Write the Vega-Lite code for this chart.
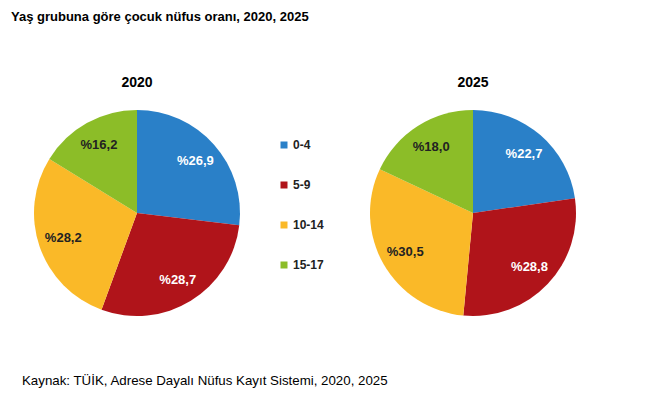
{
  "$schema": "https://vega.github.io/schema/vega-lite/v6.json",
  "padding": {"left": 11, "top": 11, "right": 5, "bottom": 5},
  "background": "white",
  "title": {
    "text": "Yaş grubuna göre çocuk nüfus oranı, 2020, 2025",
    "anchor": "start",
    "frame": "group",
    "dx": -11,
    "font": "Liberation Sans",
    "fontSize": 13,
    "fontWeight": "bold",
    "color": "#000000",
    "offset": 52
  },
  "data": {
    "values": [
      {"year": "2020", "age": "0-4", "idx": 1, "value": 26.9, "label": "%26,9"},
      {"year": "2020", "age": "5-9", "idx": 2, "value": 28.7, "label": "%28,7"},
      {"year": "2020", "age": "10-14", "idx": 3, "value": 28.2, "label": "%28,2"},
      {"year": "2020", "age": "15-17", "idx": 4, "value": 16.2, "label": "%16,2"},
      {"year": "2025", "age": "0-4", "idx": 1, "value": 22.7, "label": "%22,7"},
      {"year": "2025", "age": "5-9", "idx": 2, "value": 28.8, "label": "%28,8"},
      {"year": "2025", "age": "10-14", "idx": 3, "value": 30.5, "label": "%30,5"},
      {"year": "2025", "age": "15-17", "idx": 4, "value": 18.0, "label": "%18,0"}
    ]
  },
  "facet": {
    "column": {
      "field": "year",
      "type": "nominal",
      "header": {
        "title": "Kaynak: TÜİK, Adrese Dayalı Nüfus Kayıt Sistemi, 2020, 2025",
        "titleOrient": "bottom",
        "titleAnchor": "start",
        "titleFont": "Liberation Sans",
        "titleFontSize": 13.3,
        "titleFontWeight": "normal",
        "titleColor": "#000000",
        "titlePadding": 48,
        "labelOrient": "top",
        "labelFont": "Liberation Sans",
        "labelFontSize": 14,
        "labelFontWeight": "bold",
        "labelColor": "#000000",
        "labelPadding": 20
      }
    }
  },
  "spacing": 106,
  "spec": {
    "width": 230,
    "height": 206,
    "layer": [
      {
        "mark": {"type": "arc", "outerRadius": 103},
        "encoding": {
          "theta": {"field": "value", "type": "quantitative", "stack": true},
          "order": {"field": "idx", "type": "quantitative"},
          "color": {
            "field": "age",
            "type": "nominal",
            "scale": {
              "domain": ["0-4", "5-9", "10-14", "15-17"],
              "range": ["#2a80c8", "#b0141a", "#fab928", "#8cbd28"]
            },
            "legend": {
              "orient": "none",
              "legendX": 256,
              "legendY": 29,
              "title": null,
              "padding": 0,
              "symbolType": "square",
              "symbolSize": 49,
              "symbolStrokeWidth": 0,
              "labelFont": "Liberation Sans",
              "labelFontSize": 12,
              "labelFontWeight": "bold",
              "labelColor": "#222222",
              "labelOffset": 3,
              "rowPadding": 28
            }
          }
        }
      },
      {
        "mark": {"type": "text", "radius": 78, "font": "Liberation Sans", "fontSize": 13, "fontWeight": "bold"},
        "encoding": {
          "theta": {"field": "value", "type": "quantitative", "stack": true},
          "order": {"field": "idx", "type": "quantitative"},
          "text": {"field": "label"},
          "color": {
            "condition": {"test": "datum.age === '0-4' || datum.age === '5-9'", "value": "#ffffff"},
            "value": "#222222"
          }
        }
      }
    ]
  },
  "config": {"view": {"stroke": null}}
}
